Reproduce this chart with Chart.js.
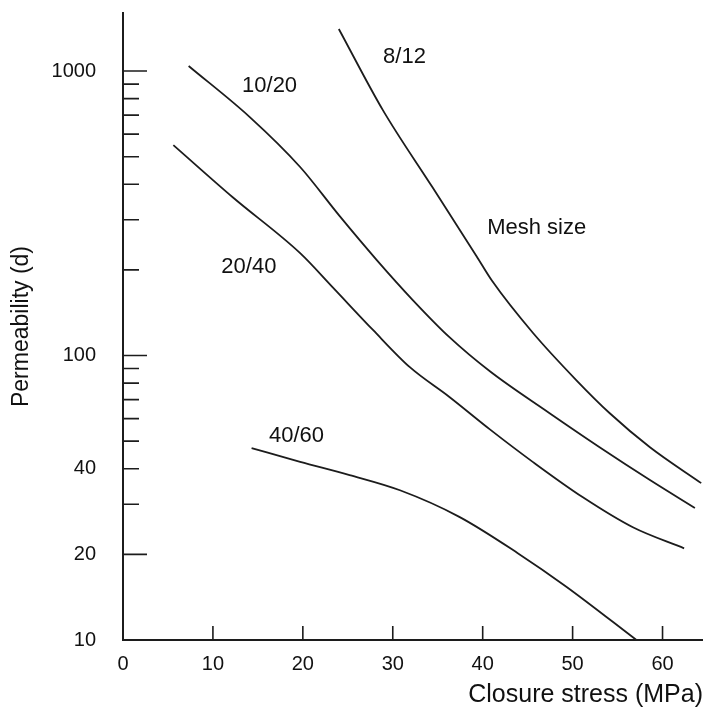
<!DOCTYPE html>
<html>
<head>
<meta charset="utf-8">
<script src="https://cdn.jsdelivr.net/npm/chart.js@4.4.1/dist/chart.umd.min.js"></script>
<style>
  html, body { margin: 0; padding: 0; background: #fff; }
</style>
</head>
<body>
<canvas id="chart" width="703" height="718"></canvas>
<script>
// Permeability (darcy) against closure stress (MPa), one curve per mesh size
const mesh812X = [24.0, 28.9, 34.4, 39.3, 41.1, 45.6, 50.4, 54.1, 58.6, 64.3];
const mesh812Y = [1406, 729, 391, 224, 182, 120, 82, 62.8, 47.6, 35.6];

const mesh1020X = [7.3, 14.1, 19.7, 24.1, 28.2, 32.2, 36.3, 40.8, 47.4, 53.0, 58.6, 63.6];
const mesh1020Y = [1042, 689, 460, 309, 217, 157, 116, 88, 62.8, 47.6, 36.5, 29.1];

const mesh2040X = [5.6, 12.2, 19.7, 23.3, 27.8, 31.9, 36.3, 40.8, 45.6, 51.1, 56.7, 62.4];
const mesh2040Y = [549, 360, 229, 174, 123, 91, 71.5, 55, 42.2, 31.8, 24.9, 21.0];

const mesh4060X = [14.3, 19.7, 25.2, 30.8, 37.4, 43.9, 49.3, 57.1];
const mesh4060Y = [47.3, 42.3, 38.0, 33.6, 27.1, 20.2, 15.4, 10];

// curve annotations
const curveLabels = ['8/12', '10/20', '20/40', '40/60', 'Mesh size'];
const curveLabelX = [31.3, 16.3, 14.0, 19.3, 46.0];
const curveLabelY = [1119, 885, 205, 52.1, 281];

// axis ticks
const xTickValues = [0, 10, 20, 30, 40, 50, 60];
const yTickValues = [10, 20, 30, 40, 50, 60, 70, 80, 90, 100, 200, 300, 400, 500, 600, 700, 800, 900, 1000];
const yLabelValues = [10, 20, 40, 100, 1000];
const yLongTicks = [20, 100, 1000];

const toPoints = (xs, ys) => xs.map((x, i) => ({ x: x, y: ys[i] }));

const ink = '#111';
const fontFamily = '"Liberation Sans", Arial, Helvetica, sans-serif';

const curve = (label, xs, ys) => ({
    label: label,
    data: toPoints(xs, ys),
    borderColor: '#1c1c1c',
    borderWidth: 1.8,
    pointRadius: 0,
    fill: false,
    cubicInterpolationMode: 'monotone'
});

// inside tick marks and curve labels
const decorPlugin = {
    id: 'decor',
    afterDatasetsDraw(chart) {
        const { ctx, chartArea } = chart;
        const xs = chart.scales.x, ys = chart.scales.y;
        ctx.save();
        ctx.strokeStyle = '#1c1c1c';
        ctx.lineWidth = 1.6;
        ctx.beginPath();
        yTickValues.forEach(v => {
            if (v <= 10) return;
            const py = ys.getPixelForValue(v);
            const len = yLongTicks.includes(v) ? 24 : 16;
            ctx.moveTo(chartArea.left, py);
            ctx.lineTo(chartArea.left + len, py);
        });
        xTickValues.forEach(v => {
            if (v === 0) return;
            const px = xs.getPixelForValue(v);
            ctx.moveTo(px, chartArea.bottom);
            ctx.lineTo(px, chartArea.bottom - 14);
        });
        ctx.stroke();

        ctx.fillStyle = ink;
        ctx.font = '22px ' + fontFamily;
        ctx.textAlign = 'center';
        ctx.textBaseline = 'middle';
        curveLabels.forEach((t, i) => {
            ctx.fillText(t, xs.getPixelForValue(curveLabelX[i]), ys.getPixelForValue(curveLabelY[i]));
        });
        ctx.restore();
    }
};

new Chart(document.getElementById('chart'), {
    type: 'line',
    data: {
        datasets: [
            curve('8/12', mesh812X, mesh812Y),
            curve('10/20', mesh1020X, mesh1020Y),
            curve('20/40', mesh2040X, mesh2040Y),
            curve('40/60', mesh4060X, mesh4060Y)
        ]
    },
    options: {
        responsive: false,
        devicePixelRatio: 1,
        animation: false,
        layout: { padding: { left: 4, top: 13, right: 0, bottom: 0 } },
        plugins: {
            legend: { display: false },
            tooltip: { enabled: false }
        },
        scales: {
            x: {
                type: 'linear',
                min: 0,
                max: 64.5,
                afterBuildTicks: s => { s.ticks = xTickValues.map(v => ({ value: v })); },
                afterFit: s => { s.height = 78; s.paddingLeft = 0; s.paddingRight = 0; },
                grid: { display: false, drawTicks: false },
                border: { display: true, color: '#1c1c1c', width: 2 },
                ticks: {
                    autoSkip: false,
                    maxRotation: 0,
                    color: ink,
                    padding: 12,
                    font: { family: fontFamily, size: 20 }
                },
                title: {
                    display: true,
                    text: 'Closure stress (MPa)',
                    align: 'end',
                    color: ink,
                    font: { family: fontFamily, size: 25 },
                    padding: { top: 0, bottom: 8 }
                }
            },
            y: {
                type: 'logarithmic',
                min: 10,
                max: 1600,
                afterBuildTicks: s => { s.ticks = yTickValues.map(v => ({ value: v })); },
                afterFit: s => { s.width = 119; s.paddingTop = 0; s.paddingBottom = 0; },
                grid: { display: false, drawTicks: false },
                border: { display: true, color: '#1c1c1c', width: 2 },
                ticks: {
                    autoSkip: false,
                    color: ink,
                    padding: 27,
                    font: { family: fontFamily, size: 20 },
                    callback: v => yLabelValues.includes(v) ? String(v) : ''
                },
                title: {
                    display: true,
                    text: 'Permeability (d)',
                    color: ink,
                    font: { family: fontFamily, size: 23 },
                    padding: { top: 4, bottom: 0 }
                }
            }
        }
    },
    plugins: [decorPlugin]
});
</script>
</body>
</html>
